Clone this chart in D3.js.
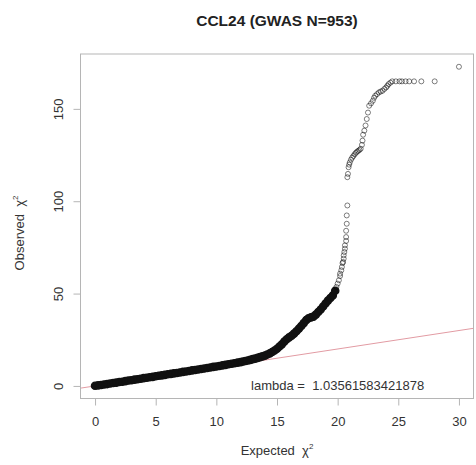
<!DOCTYPE html>
<html>
<head>
<meta charset="utf-8">
<script src="https://cdn.jsdelivr.net/npm/d3@7"></script>
<style>
	body { margin: 0; background: #fff; }
	svg { display: block; font-family: "Liberation Sans", Arial, sans-serif; }
	text { white-space: pre; }
</style>
</head>
<body>
<svg id="chart" width="476" height="465"></svg>
<script>
const title = "CCL24 (GWAS N=953)";
const lambdaText = "lambda =  1.03561583421878";
const xTicks = [0, 5, 10, 15, 20, 25, 30];
const yTicks = [0, 50, 100, 150];

// dense part of the QQ curve (reads as a solid black band)
const bandExpected = [
	0, 0.25, 0.5, 0.75, 1, 1.25, 1.5, 1.75, 2, 2.25, 2.5, 2.75, 3, 3.25, 3.5, 3.75,
	4, 4.25, 4.5, 4.75, 5, 5.25, 5.5, 5.75, 6, 6.25, 6.5, 6.75, 7, 7.25, 7.5, 7.75,
	8, 8.25, 8.5, 8.75, 9, 9.25, 9.5, 9.75, 10, 10.25, 10.5, 10.75, 11, 11.25, 11.5, 11.75,
	12, 12.2, 12.4, 12.6, 12.8, 13, 13.2, 13.4, 13.6, 13.8, 14, 14.2, 14.4, 14.6, 14.8,
	15, 15.2, 15.4, 15.6, 15.8, 16, 16.2, 16.4, 16.6, 16.8, 17, 17.2, 17.4, 17.6, 17.8,
	18, 18.2, 18.4, 18.6, 18.8, 19, 19.2, 19.4, 19.6, 19.8
];
const bandObserved = [
	0.1, 0.3, 0.5, 0.8, 1.0, 1.3, 1.6, 1.8, 2.1, 2.3, 2.6, 2.9, 3.1, 3.4, 3.6, 3.9,
	4.2, 4.4, 4.7, 4.9, 5.2, 5.5, 5.7, 6.0, 6.3, 6.5, 6.8, 7.0, 7.3, 7.6, 7.8, 8.1,
	8.4, 8.6, 8.9, 9.2, 9.4, 9.7, 10.0, 10.3, 10.5, 10.8, 11.1, 11.4, 11.7, 12.0, 12.3, 12.6,
	12.9, 13.2, 13.5, 13.8, 14.1, 14.5, 14.8, 15.2, 15.6, 16.0, 16.4, 17.0, 17.6, 18.4, 19.2,
	20.1, 21.3, 22.5, 24.0, 25.3, 26.3, 27.2, 28.3, 29.6, 31.0, 32.4, 34.0, 35.6, 36.6, 37.1,
	37.5, 38.6, 40.0, 41.4, 43.0, 44.6, 46.2, 47.6, 49.0, 51.5
];

// sparse upper tail (individual open circles)
const tailExpected = [
	19.9, 20.0, 20.1, 20.2, 20.2, 20.3, 20.35, 20.4, 20.45, 20.5, 20.5, 20.55, 20.6, 20.6,
	20.7, 20.7, 20.7, 20.75, 20.75, 20.8, 20.8, 20.85, 20.9, 20.95, 21.0, 21.1, 21.2, 21.3,
	21.4, 21.5, 21.6, 21.7, 21.8, 21.9, 22.0, 22.05, 22.1, 22.2, 22.3, 22.4, 22.5, 22.6,
	22.75, 22.9, 23.0, 23.1, 23.25, 23.4, 23.55, 23.7, 23.85, 24.0, 24.1, 24.2, 24.35, 24.5,
	24.8, 25.1, 25.3, 25.6, 25.9, 26.3, 26.9, 28.0, 30.0
];
const tailObserved = [
	53.6, 55.4, 57.2, 59.5, 60.8, 62.6, 64.4, 66.5, 67.1, 68.9, 70.7, 72.5, 74.3, 76.1,
	78.5, 80.6, 84.0, 87.8, 92.3, 97.7, 113.0, 114.8, 118.4, 119.8, 121.0, 122.5, 123.6, 124.5,
	125.4, 126.2, 126.8, 127.3, 127.8, 128.4, 130.5, 132.8, 136.0, 138.2, 141.0, 144.5, 148.0, 151.7,
	153.0, 154.4, 156.0, 157.1, 158.0, 158.9, 159.4, 159.8, 160.8, 161.6, 162.5, 163.4, 164.2, 164.9,
	164.9, 164.9, 164.9, 164.9, 164.9, 164.9, 164.9, 164.9, 172.8
];

const W = 476, H = 465;
const plot = {left: 80.5, right: 473.5, top: 54, bottom: 398.5};
const FONT = '"Liberation Sans", Arial, sans-serif';

const allX = bandExpected.concat(tailExpected);
const allY = bandObserved.concat(tailObserved);
const pad = ([lo, hi]) => [lo - (hi - lo) * 0.04, hi + (hi - lo) * 0.04];

const x = d3.scaleLinear().domain(pad(d3.extent(allX))).range([plot.left, plot.right]);
const y = d3.scaleLinear().domain(pad(d3.extent(allY))).range([plot.bottom, plot.top]);

const svg = d3.select('#chart');

svg.append('text')
	.attr('x', 277).attr('y', 26)
	.attr('text-anchor', 'middle')
	.attr('font-size', 15.5).attr('font-weight', 'bold')
	.attr('fill', '#222')
	.text(title);

svg.append('defs').append('clipPath').attr('id', 'clip')
	.append('rect')
	.attr('x', plot.left).attr('y', plot.top)
	.attr('width', plot.right - plot.left).attr('height', plot.bottom - plot.top);

// y = x reference line
const [dx0, dx1] = x.domain();
svg.append('line')
	.attr('clip-path', 'url(#clip)')
	.attr('x1', x(dx0)).attr('y1', y(dx0))
	.attr('x2', x(dx1)).attr('y2', y(dx1))
	.attr('stroke', '#e29ba3').attr('stroke-width', 1);

const band = bandExpected.map((e, i) => ({e, o: bandObserved[i]}));
const tail = tailExpected.map((e, i) => ({e, o: tailObserved[i]}));

svg.append('g')
	.selectAll('circle')
	.data(band)
	.join('circle')
	.attr('cx', d => x(d.e))
	.attr('cy', d => y(d.o))
	.attr('r', 3.6)
	.attr('fill', '#111')
	.attr('stroke', '#111')
	.attr('stroke-width', 1.4);

svg.append('g')
	.selectAll('circle')
	.data(tail)
	.join('circle')
	.attr('cx', d => x(d.e))
	.attr('cy', d => y(d.o))
	.attr('r', 2.5)
	.attr('fill', 'none')
	.attr('stroke', '#000')
	.attr('stroke-opacity', 0.5)
	.attr('stroke-width', 1);

svg.append('text')
	.attr('x', x(20)).attr('y', y(0) + 4.5)
	.attr('text-anchor', 'middle')
	.attr('font-size', 13).attr('fill', '#333')
	.text(lambdaText);

svg.append('rect')
	.attr('x', plot.left).attr('y', plot.top)
	.attr('width', plot.right - plot.left).attr('height', plot.bottom - plot.top)
	.attr('fill', 'none').attr('stroke', '#b5b5b5').attr('stroke-width', 1);

const xAxis = svg.append('g')
	.attr('transform', `translate(0,${plot.bottom})`)
	.call(d3.axisBottom(x).tickValues(xTicks).tickSize(7).tickPadding(11));
xAxis.select('.domain').remove();
xAxis.selectAll('line').attr('stroke', '#b5b5b5');
xAxis.selectAll('text').attr('font-size', 13).attr('fill', '#333')
	.attr('font-family', FONT);

const yAxis = svg.append('g')
	.attr('transform', `translate(${plot.left},0)`)
	.call(d3.axisLeft(y).tickValues(yTicks).tickSize(7));
yAxis.select('.domain').remove();
yAxis.selectAll('line').attr('stroke', '#b5b5b5');
yAxis.selectAll('text')
	.attr('font-size', 13).attr('fill', '#333')
	.attr('font-family', FONT)
	.attr('x', null).attr('dy', null)
	.attr('text-anchor', 'middle')
	.attr('transform', 'translate(-18,0) rotate(-90)')
	.attr('y', 0);

const xLabel = svg.append('text')
	.attr('x', 277).attr('y', 455)
	.attr('text-anchor', 'middle')
	.attr('font-size', 13).attr('fill', '#333');
xLabel.append('tspan').text('Expected  \u03c7');
xLabel.append('tspan').attr('font-size', 8).attr('dy', -6).text('2');

const yLabel = svg.append('text')
	.attr('transform', 'translate(24,233) rotate(-90)')
	.attr('text-anchor', 'middle')
	.attr('font-size', 13).attr('fill', '#333');
yLabel.append('tspan').text('Observed  \u03c7');
yLabel.append('tspan').attr('font-size', 8).attr('dy', -6).text('2');
</script>
</body>
</html>
